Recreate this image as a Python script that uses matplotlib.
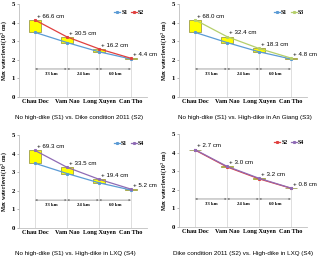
import matplotlib
matplotlib.use("Agg")
import matplotlib.pyplot as plt
import numpy as np

# stations and max water levels (10^2 cm)
stations = ['Chau Doc', 'Vam Nao', 'Long Xuyen', 'Can Tho']
s1 = [3.48, 2.93, 2.43, 2.04]
s2 = [4.15, 3.235, 2.59, 2.08]
s3 = [4.16, 3.25, 2.61, 2.09]
s4 = [4.17, 3.265, 2.62, 2.09]

# labelled differences (cm)
diff_s2_s1 = [66.6, 30.5, 16.2, 4.4]
diff_s3_s1 = [68.0, 32.4, 18.3, 4.8]
diff_s4_s1 = [69.3, 33.5, 19.4, 5.2]
diff_s4_s2 = [2.7, 3.0, 3.2, 0.8]

distances = ['33 km', '24 km', '60 km']

c_s1 = '#5b9bd5'
c_s2 = '#e0403f'
c_s3 = '#b5cf6b'
c_s4 = '#8f6bb5'

panels = [
    ('No high-dike (S1) vs. Dike condition 2011 (S2)', 'S1', s1, c_s1, 'S2', s2, c_s2, diff_s2_s1),
    ('No high-dike (S1) vs. High-dike in An Giang (S3)', 'S1', s1, c_s1, 'S3', s3, c_s3, diff_s3_s1),
    ('No high-dike (S1) vs. High-dike in LXQ (S4)', 'S1', s1, c_s1, 'S4', s4, c_s4, diff_s4_s1),
    ('Dike condition 2011 (S2) vs. High-dike in LXQ (S4)', 'S2', s2, c_s2, 'S4', s4, c_s4, diff_s4_s2),
]

# axes rectangles in pixels: left, top, right, bottom ; title x, y
W, H = 320, 259
boxes = [
    (19, 4.3, 147, 96.7, 15, 118),
    (179, 4.3, 307, 96.7, 178, 118),
    (19, 135, 147, 228, 15, 253),
    (179, 134.3, 307, 226.7, 173, 254),
]

fig = plt.figure(figsize=(3.2, 2.59), dpi=100)
serif = 'Liberation Serif'

for (title, n_a, a, ca, n_b, b, cb, diffs), (l, t, r, btm, tx, ty) in zip(panels, boxes):
    ax = fig.add_axes([l / W, 1 - btm / H, (r - l) / W, (btm - t) / H])
    x = np.arange(len(stations))
    a = np.array(a)
    b = np.array(b)
    top = np.maximum(a, b)

    # drop lines
    ax.vlines(x, 0, top, color='#d9d9d9', lw=0.6, zorder=1)

    # yellow boxes between scenarios
    ax.bar(x, b - a, bottom=a, width=0.4, color='#ffff00',
           edgecolor='#8c8c3c', linewidth=0.5, zorder=2)

    ax.plot(x, a, color=ca, lw=0.9, marker='s', ms=1.2, label=n_a, zorder=3)
    ax.plot(x, b, color=cb, lw=0.9, marker='s', ms=1.2, label=n_b, zorder=4)

    for xi, yi, d in zip(x, top, diffs):
        ax.text(xi + 0.05, yi + 0.2, f'+ {d:.1f} cm', fontsize=4.4,
                family='Liberation Sans', va='center', ha='left')

    for i, lab in enumerate(distances):
        ax.annotate('', xy=(x[i + 1], 1.5), xytext=(x[i], 1.5),
                    arrowprops=dict(arrowstyle='<|-|>', color='#7f7f7f',
                                    lw=0.5, mutation_scale=2.5,
                                    shrinkA=0, shrinkB=0))
        ax.text(x[i] + 0.5, 1.22, lab, fontsize=3.4, family=serif,
                fontweight='bold', ha='center', va='center')

    ax.set_xlim(-0.5, 3.5)
    ax.set_ylim(0, 5)
    ax.set_xticks(x)
    ax.set_xticklabels(stations, fontsize=4.5, family=serif, fontweight='bold')
    ax.set_yticks(range(6))
    ax.set_yticklabels([str(v) for v in range(6)], fontsize=4.8, family=serif,
                       fontweight='bold')
    ax.set_ylabel('Max water level (10$^2$ cm)', fontsize=4, family=serif,
                  fontweight='bold', labelpad=2)
    ax.tick_params(axis='both', length=1.5, width=0.4, pad=1.5, colors='#7f7f7f',
                   labelcolor='black')
    ax.tick_params(axis='x', length=0)
    for s in ['top', 'right']:
        ax.spines[s].set_visible(False)
    for s in ['left', 'bottom']:
        ax.spines[s].set_color('#bfbfbf')
        ax.spines[s].set_linewidth(0.6)

    ax.legend(loc='upper right', bbox_to_anchor=(1.0, 0.97), ncol=2, frameon=False,
              prop={'family': serif, 'size': 4.2, 'weight': 'bold'},
              handlelength=1.0, handletextpad=0.2, columnspacing=0.6,
              borderaxespad=0.1)

    fig.text(tx / W, 1 - ty / H, title, fontsize=4.5, family='Liberation Sans',
             ha='left', va='center')

fig.savefig('out.png', dpi=100)
